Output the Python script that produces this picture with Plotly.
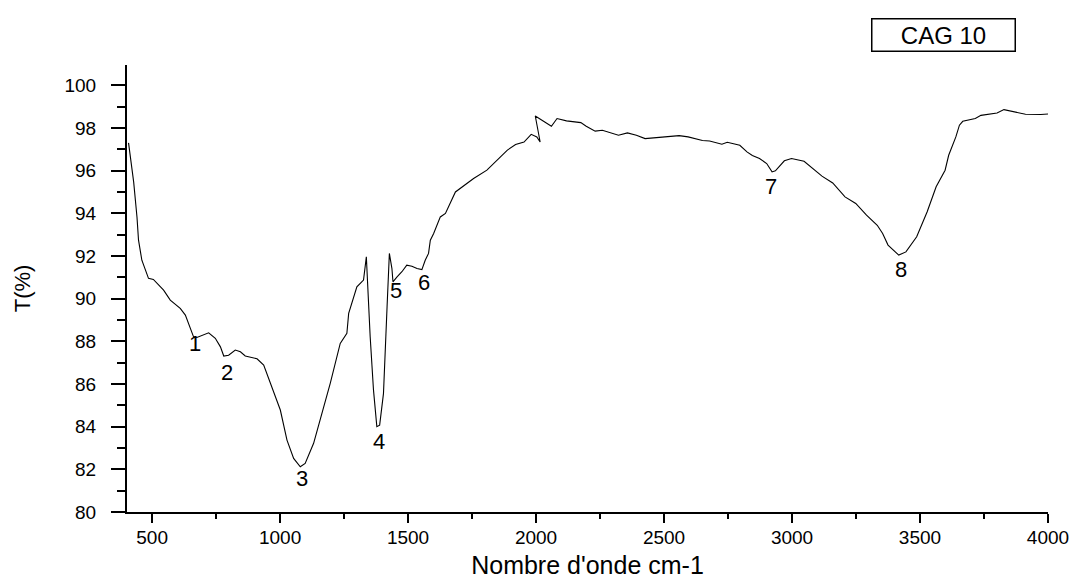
import plotly.graph_objects as go

# Wavenumber (cm-1) and transmittance (%)
wavenumber = [408, 428, 441, 447, 460, 486, 505, 545, 571, 610, 630, 662, 675, 695, 721,
              747, 767, 780, 799, 825, 845, 864, 910, 936, 962, 988, 1001, 1027, 1053,
              1079, 1098, 1131, 1164, 1196, 1235, 1261, 1268, 1300, 1319, 1326, 1337,
              1352, 1365, 1378, 1389, 1404, 1418, 1427, 1437, 1441, 1457, 1476, 1495,
              1515, 1535, 1554, 1567, 1580, 1587, 1600, 1626, 1646, 1685, 1756, 1808,
              1841, 1861, 1888, 1920, 1953, 1981, 2003, 2016, 1997, 2060, 2082, 2119,
              2175, 2196, 2231, 2259, 2322, 2357, 2392, 2426, 2482, 2559, 2594, 2650,
              2678, 2726, 2747, 2796, 2824, 2845, 2873, 2901, 2922, 2935, 2970, 2998,
              3047, 3117, 3159, 3207, 3249, 3291, 3333, 3354, 3375, 3417, 3445, 3487,
              3528, 3563, 3598, 3612, 3640, 3654, 3667, 3716, 3738, 3801, 3828, 3877,
              3912, 3972, 4000]
transmittance = [97.3, 95.47, 93.83, 92.74, 91.8, 90.95, 90.9, 90.4, 89.93, 89.54, 89.23,
                 88.21, 88.18, 88.29, 88.4, 88.14, 87.74, 87.31, 87.35, 87.59, 87.51,
                 87.31, 87.18, 86.89, 86.03, 85.25, 84.78, 83.37, 82.51, 82.12, 82.28,
                 83.22, 84.62, 86.03, 87.9, 88.37, 89.31, 90.55, 90.79, 90.87, 91.96,
                 88.21, 85.71, 84.0, 84.07, 85.56, 89.62, 92.12, 91.41, 90.79, 91.02,
                 91.26, 91.57, 91.52, 91.41, 91.36, 91.8, 92.12, 92.74, 93.05, 93.83,
                 93.99, 95.0, 95.63, 96.02, 96.41, 96.64, 96.96, 97.22, 97.34, 97.7,
                 97.58, 97.34, 98.56, 98.08, 98.44, 98.33, 98.25, 98.08, 97.85, 97.89,
                 97.66, 97.77, 97.66, 97.5, 97.56, 97.64, 97.58, 97.41, 97.39, 97.24,
                 97.33, 97.19, 96.88, 96.71, 96.57, 96.33, 95.94, 95.99, 96.46, 96.57,
                 96.44, 95.74, 95.42, 94.77, 94.46, 93.91, 93.44, 93.05, 92.51, 92.04,
                 92.19, 92.9, 94.07, 95.24, 96.02, 96.72, 97.58, 98.13, 98.31, 98.44,
                 98.59, 98.7, 98.86, 98.75, 98.64, 98.63, 98.65]

# Band labels
band_labels = ["1", "2", "3", "4", "5", "6", "7", "8"]
band_x = [669, 792, 1085, 1385, 1452, 1561, 2917, 3424]
band_y = [87.9, 86.54, 81.58, 83.3, 90.4, 90.75, 95.27, 91.37]

x_ticks = [500, 1000, 1500, 2000, 2500, 3000, 3500, 4000]
y_ticks = [80, 82, 84, 86, 88, 90, 92, 94, 96, 98, 100]

FONT = "Liberation Sans, Arial, sans-serif"

fig = go.Figure()
fig.add_trace(go.Scatter(x=wavenumber, y=transmittance, mode="lines",
                         line=dict(color="black", width=1.1), showlegend=False,
                         hoverinfo="x+y"))

for t, xv, yv in zip(band_labels, band_x, band_y):
    fig.add_annotation(x=xv, y=yv, text=t, showarrow=False,
                       font=dict(family=FONT, size=22, color="black"))

fig.add_annotation(xref="paper", yref="paper", x=0.887, y=1.068, text="CAG 10",
                   showarrow=False, xanchor="center", yanchor="middle",
                   width=138, height=27, borderpad=2, bordercolor="black",
                   borderwidth=1.5, bgcolor="white",
                   font=dict(family=FONT, size=24, color="black"))

# The page adds an 8px body margin, so the figure is sized/offset to compensate.
fig.update_layout(
    width=1071, height=571,
    margin=dict(l=119, r=31, t=57, b=67),
    paper_bgcolor="white", plot_bgcolor="white",
    font=dict(family=FONT, color="black"),
)
fig.update_xaxes(
    range=[402, 4000], tickvals=x_ticks, ticktext=[str(v) for v in x_ticks],
    showgrid=False, zeroline=False, showline=True, linecolor="black", linewidth=2,
    ticks="outside", ticklen=9, tickwidth=2, tickcolor="black",
    minor=dict(dtick=250, tick0=0, ticks="outside", ticklen=5, tickwidth=1.5,
               tickcolor="black", showgrid=False),
    tickfont=dict(family=FONT, size=19, color="black"), ticklabelstandoff=-2,
    title=dict(text="Nombre d'onde cm-1", font=dict(family=FONT, size=25, color="black"),
               standoff=19),
    automargin=False,
)
fig.update_yaxes(
    range=[80, 100.95], tickvals=y_ticks, ticktext=[str(v) for v in y_ticks],
    showgrid=False, zeroline=False, showline=True, linecolor="black", linewidth=2,
    ticks="outside", ticklen=14, tickwidth=2, tickcolor="black",
    minor=dict(dtick=1, tick0=0, ticks="outside", ticklen=8, tickwidth=1.5,
               tickcolor="black", showgrid=False),
    tickfont=dict(family=FONT, size=19, color="black"), ticklabelstandoff=11,
    title=dict(text="T(%)", font=dict(family=FONT, size=22, color="black"), standoff=28),
    automargin=False,
)

fig.write_html("out.html")
